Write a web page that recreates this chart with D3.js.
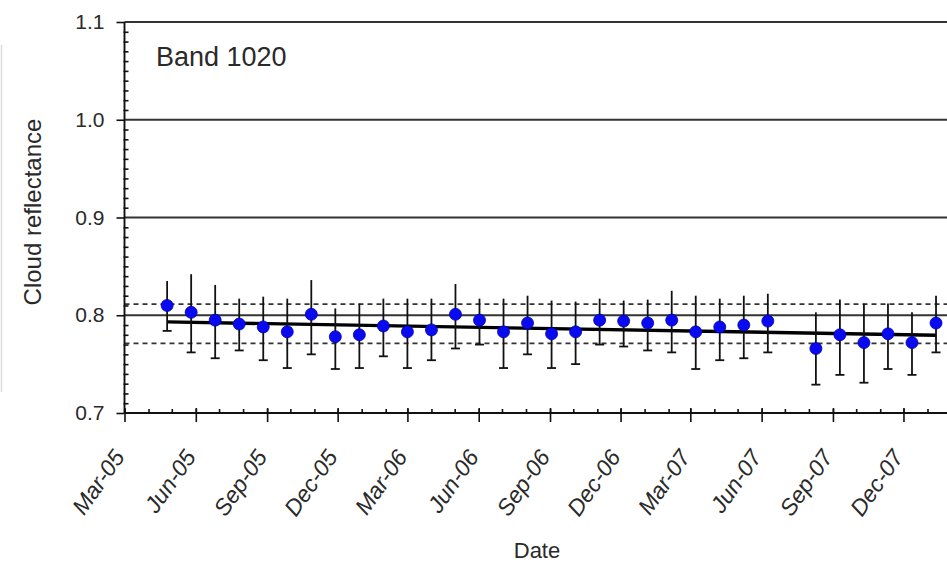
<!DOCTYPE html>
<html>
<head>
<meta charset="utf-8">
<script src="https://cdn.jsdelivr.net/npm/d3@7"></script>
<style>
html,body{margin:0;padding:0;background:#fff;}
svg{display:block;}
text{font-family:"Liberation Sans", Arial, sans-serif;fill:#2a2a2a;}
</style>
</head>
<body>
<svg id="chart" width="947" height="564"></svg>
<script>
// ---- data ----
const dates = ["2005-04-25","2005-05-26","2005-06-26","2005-07-27","2005-08-27","2005-09-27","2005-10-28","2005-11-28","2005-12-29","2006-01-29",
  "2006-03-01","2006-04-01","2006-05-02","2006-06-02","2006-07-03","2006-08-03","2006-09-03","2006-10-04","2006-11-04","2006-12-05",
  "2007-01-05","2007-02-05","2007-03-08","2007-04-08","2007-05-09","2007-06-09",
  "2007-08-10","2007-09-10","2007-10-11","2007-11-11","2007-12-12","2008-01-12"];
const values = [0.810,0.803,0.795,0.791,0.788,0.783,0.801,0.778,0.780,0.789,
  0.783,0.785,0.801,0.795,0.783,0.792,0.781,0.783,0.795,0.794,
  0.792,0.795,0.783,0.788,0.790,0.794,
  0.766,0.780,0.772,0.781,0.772,0.792];
const upper = [0.835,0.842,0.831,0.817,0.819,0.817,0.836,0.807,0.812,0.817,
  0.817,0.817,0.832,0.817,0.817,0.820,0.815,0.814,0.817,0.815,
  0.816,0.825,0.820,0.817,0.820,0.822,
  0.803,0.816,0.812,0.812,0.803,0.820];
const lower = [0.784,0.762,0.756,0.764,0.754,0.746,0.760,0.745,0.746,0.758,
  0.746,0.754,0.766,0.770,0.746,0.760,0.746,0.750,0.770,0.768,
  0.764,0.762,0.745,0.754,0.756,0.762,
  0.729,0.739,0.731,0.745,0.739,0.762];
const trendValues = [0.7932, 0.7795];   // linear fit at first and last date
const limitValues = [0.8113, 0.7713];   // dashed band
const yTicks = [0.7, 0.8, 0.9, 1.0, 1.1];
const xTickLabels = ["Mar-05","Jun-05","Sep-05","Dec-05","Mar-06","Jun-06","Sep-06","Dec-06","Mar-07","Jun-07","Sep-07","Dec-07"];
const title = "Band 1020";
const yTitle = "Cloud reflectance";
const xTitle = "Date";

// ---- setup ----
const svg = d3.select("#chart");
const W = 947;
const parseD = d3.timeParse("%Y-%m-%d");
const parseT = d3.timeParse("%b-%y");
const pts = dates.map((d,i)=>({date:parseD(d), v:values[i], hi:upper[i], lo:lower[i]}));
const tickDates = xTickLabels.map(parseT);

const x = d3.scaleTime().domain([parseT("Mar-05"), parseT("Mar-08")]).range([124.5, 974]);
const y = d3.scaleLinear().domain([0.7, 1.1]).range([413, 22]);
const x0 = x.range()[0];

// faint left border artifact
svg.append("line").attr("x1",1.5).attr("x2",1.5).attr("y1",45).attr("y2",392)
  .attr("stroke","#dcdcdc").attr("stroke-width",1.5);

// gridlines
svg.append("g").selectAll("line").data(yTicks.filter(v=>v>0.7)).join("line")
  .attr("x1",x0).attr("x2",W).attr("y1",d=>y(d)).attr("y2",d=>y(d))
  .attr("stroke","#333").attr("stroke-width",1.8);

// dashed band
svg.append("g").selectAll("line").data(limitValues).join("line")
  .attr("x1",x0).attr("x2",W).attr("y1",d=>y(d)).attr("y2",d=>y(d))
  .attr("stroke","#333").attr("stroke-width",1.7).attr("stroke-dasharray","5,4");

// axes
const gY = svg.append("g").attr("transform",`translate(${x0},0)`);
gY.call(d3.axisLeft(y).tickValues(yTicks).tickSize(8).tickPadding(12).tickFormat(d3.format(".1f")));
const minorY = d3.range(70,111).map(v=>v/100).filter(v=>Math.round(v*100)%10!==0);
svg.append("g").attr("transform",`translate(${x0-1},0)`)
  .call(d3.axisRight(y).tickValues(minorY).tickSize(5).tickFormat(""))
  .call(g=>g.select(".domain").remove());

const gX = svg.append("g").attr("transform",`translate(0,${y(0.7)})`);
gX.call(d3.axisBottom(x).tickValues(tickDates).tickSize(9).tickSizeOuter(0).tickFormat(""));
svg.append("g").attr("transform",`translate(0,${y(0.7)})`)
  .call(d3.axisBottom(x).tickValues(tickDates).tickSize(-5).tickFormat(""))
  .call(g=>g.select(".domain").remove());
const minorX = d3.timeMonth.range(x.domain()[0], x.domain()[1]);
svg.append("g").attr("transform",`translate(0,${y(0.7)})`)
  .call(d3.axisBottom(x).tickValues(minorX).tickSize(-4).tickFormat(""))
  .call(g=>g.select(".domain").remove());

svg.selectAll(".domain").attr("stroke","#111").attr("stroke-width",1.9);
svg.selectAll(".tick line").attr("stroke","#111").attr("stroke-width",1.6);
gY.selectAll(".tick text").attr("font-size",21).attr("fill","#2a2a2a")
  .attr("font-family","'Liberation Sans', Arial, sans-serif");
gY.select(".domain").attr("d",`M0,${y(1.1)}V${y(0.7)}`);
gX.select(".domain").attr("d",`M${x0},0H${W}`);

// x tick labels rotated
svg.append("g").selectAll("text").data(tickDates).join("text")
  .attr("transform",d=>`translate(${x(d)+1},${y(0.7)+44}) rotate(-55)`)
  .attr("text-anchor","end").attr("font-size",23).attr("font-style","italic")
  .text((d,i)=>xTickLabels[i]);

// trend line
svg.append("line")
  .attr("x1",x(pts[0].date)).attr("x2",x(pts[pts.length-1].date))
  .attr("y1",y(trendValues[0])).attr("y2",y(trendValues[1]))
  .attr("stroke","#000").attr("stroke-width",3.4);

// error bars
const eb = svg.append("g").attr("stroke","#111").attr("stroke-width",1.8);
eb.selectAll("line.v").data(pts).join("line").attr("class","v")
  .attr("x1",d=>x(d.date)).attr("x2",d=>x(d.date)).attr("y1",d=>y(d.hi)).attr("y2",d=>y(d.lo));
eb.selectAll("line.c").data(pts).join("line").attr("class","c")
  .attr("x1",d=>x(d.date)-4.5).attr("x2",d=>x(d.date)+4.5).attr("y1",d=>y(d.lo)).attr("y2",d=>y(d.lo));

// points
svg.append("g").selectAll("circle").data(pts).join("circle")
  .attr("cx",d=>x(d.date)).attr("cy",d=>y(d.v)).attr("r",6)
  .attr("fill","#0a0af0").attr("stroke","#0000b0").attr("stroke-width",0.8);

// titles
svg.append("text").attr("x",156).attr("y",66).attr("font-size",27).text(title);
svg.append("text").attr("transform",`translate(41,212) rotate(-90)`).attr("text-anchor","middle")
  .attr("font-size",24).text(yTitle);
svg.append("text").attr("x",537).attr("y",558).attr("text-anchor","middle")
  .attr("font-size",22).text(xTitle);
</script>
</body>
</html>
